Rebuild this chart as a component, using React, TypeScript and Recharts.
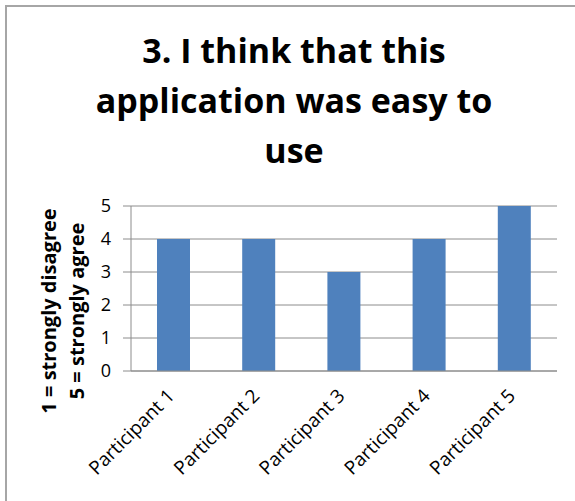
import React from 'react';
import { BarChart, Bar, XAxis, YAxis, CartesianGrid } from 'recharts';

const participants = ['Participant 1', 'Participant 2', 'Participant 3', 'Participant 4', 'Participant 5'];
const scores = [4, 4, 3, 4, 5];
const yTicks = [0, 1, 2, 3, 4, 5];
const titleLines = ['3. I think that this', 'application was easy to', 'use'];
const yLabelLines = ['1 = strongly disagree', '5 = strongly agree'];

const data = participants.map((name, i) => ({ name, score: scores[i] }));

const FONT = "'Open Sans', 'Liberation Sans', sans-serif";

const CategoryTick = (props: any) => {
  const { x, y, payload } = props;
  const ax = x + 2;
  const ay = y + 18;
  return (
    <text
      x={ax}
      y={ay}
      transform={`rotate(-45, ${ax}, ${ay})`}
      textAnchor="end"
      fontSize={19}
      fontFamily={FONT}
      fill="#000"
    >
      {payload.value}
    </text>
  );
};

// two-line rotated axis title on the left
const AxisTitle = () => (
  <g fontFamily={FONT} fontWeight="bold" fontSize={20} fill="#000">
    {yLabelLines.map((line, i) => {
      const cx = 56 + i * 28;
      const cy = 311;
      return (
        <text key={line} x={cx} y={cy} textAnchor="middle" transform={`rotate(-90, ${cx}, ${cy})`}>
          {line}
        </text>
      );
    })}
  </g>
);

export default function App() {
  return (
    <div style={{ position: 'absolute', left: 0, top: 0, width: 575, height: 501, background: '#fff', overflow: 'hidden' }}>
      <div
        style={{
          position: 'absolute',
          left: 5,
          top: 5,
          width: 600,
          height: 520,
          borderLeft: '2px solid #a6a6a6',
          borderTop: '2px solid #a6a6a6',
        }}
      />
      <div
        style={{
          position: 'absolute',
          left: 0,
          top: 25,
          width: 588,
          textAlign: 'center',
          fontFamily: FONT,
          fontWeight: 'bold',
          fontSize: 34,
          lineHeight: '50px',
          color: '#000',
          whiteSpace: 'nowrap',
        }}
      >
        {titleLines.map((l) => (
          <div key={l}>{l}</div>
        ))}
      </div>
      <BarChart
        width={575}
        height={501}
        data={data}
        margin={{ top: 206, right: 18, bottom: 0, left: 0 }}
        barSize={33}
        style={{ position: 'absolute', left: 0, top: 0 }}
      >
        <CartesianGrid vertical={false} stroke="#8c8c8c" strokeWidth={1} />
        <XAxis
          dataKey="name"
          height={130}
          tickLine={false}
          axisLine={{ stroke: '#8c8c8c' }}
          tick={<CategoryTick />}
          interval={0}
        />
        <YAxis
          width={131}
          domain={[0, 5]}
          ticks={yTicks}
          tickSize={8}
          tickLine={{ stroke: '#8c8c8c' }}
          axisLine={{ stroke: '#8c8c8c' }}
          tick={{ fontSize: 18, fontFamily: FONT, fill: '#000', dx: -10 }}
          label={<AxisTitle />}
        />
        <Bar dataKey="score" fill="#4f81bd" isAnimationActive={false} />
      </BarChart>
    </div>
  );
}
